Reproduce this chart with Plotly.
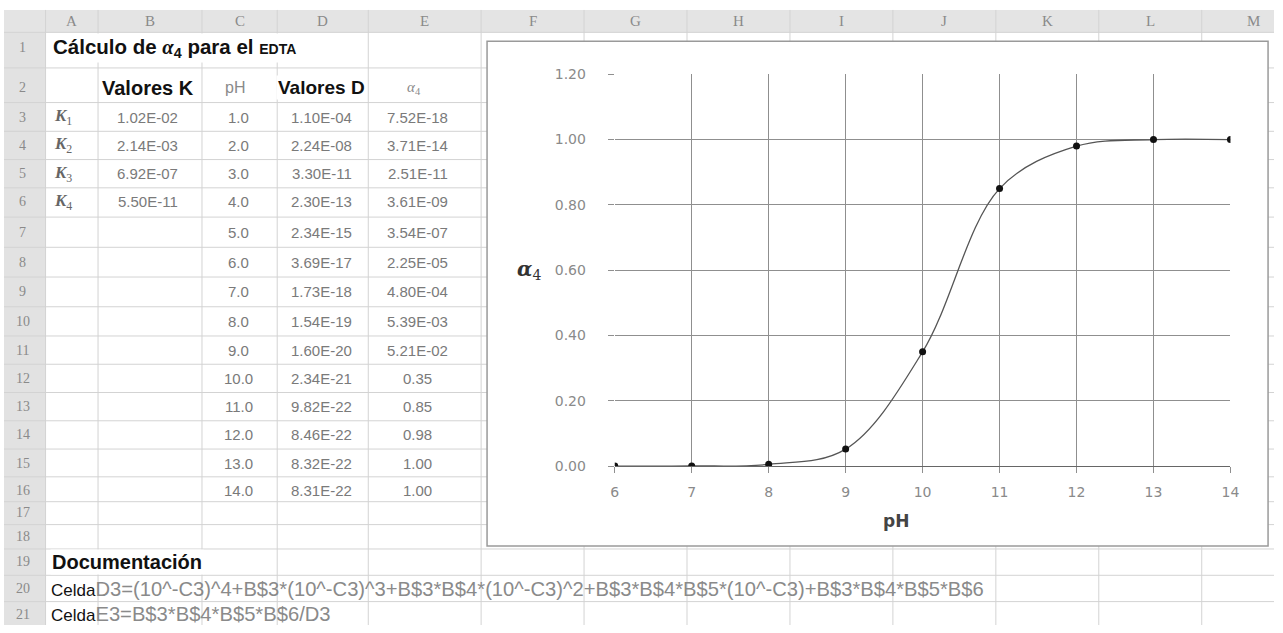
import plotly.graph_objects as go

# ---------------- data ----------------
k_labels = ["K<sub>1</sub>", "K<sub>2</sub>", "K<sub>3</sub>", "K<sub>4</sub>"]
k_values = [1.02e-02, 2.14e-03, 6.92e-07, 5.50e-11]
ph_values = [1.0, 2.0, 3.0, 4.0, 5.0, 6.0, 7.0, 8.0, 9.0, 10.0, 11.0, 12.0, 13.0, 14.0]
d_values = [1.10e-04, 2.24e-08, 3.30e-11, 2.30e-13, 2.34e-15, 3.69e-17, 1.73e-18,
            1.54e-19, 1.60e-20, 2.34e-21, 9.82e-22, 8.46e-22, 8.32e-22, 8.31e-22]
alpha4_values = [7.52e-18, 3.71e-14, 2.51e-11, 3.61e-09, 3.54e-07, 2.25e-05, 4.80e-04,
                 5.39e-03, 5.21e-02, 0.35, 0.85, 0.98, 1.00, 1.00]
column_letters = ["A", "B", "C", "D", "E", "F", "G", "H", "I", "J", "K", "L", "M"]
formula_cells = ["D3", "E3"]
formula_texts = ["(10^-C3)^4+B$3*(10^-C3)^3+B$3*B$4*(10^-C3)^2+B$3*B$4*B$5*(10^-C3)+B$3*B$4*B$5*B$6",
                 "B$3*B$4*B$5*B$6/D3"]
chart_ph_min = 6.0

# ---------------- page geometry ----------------
W, H = 1283, 633
def px(x):
    return x / W
def py(y):
    return 1 - y / H

col_edges = [0, 42, 95, 200, 276, 368, 482, 586, 690, 794, 898, 1002, 1106, 1210, 1314]
row_centers = [41, 82, 112, 141, 170, 199, 230, 261, 291, 322, 351, 380, 409, 438, 467,
               495, 518, 542, 568, 596, 622]
HEAD_TOP, HEAD_BOT = 2, 25
row_edges = [HEAD_BOT] + [(row_centers[i] + row_centers[i + 1]) / 2
                          for i in range(len(row_centers) - 1)] + [633]
# text centres in table columns B..E
xB, xC, xD, xE = 145, 237, 321, 418

def col_center(i):  # i: 0 -> A
    return (col_edges[i + 1] + col_edges[i + 2]) / 2

GRID = "#d3d3d3"
GRAY_TXT = "#7a7a7a"
FONT = "Liberation Sans, Arial, sans-serif"

shapes = []
shapes.append(dict(type="rect", xref="paper", yref="paper", x0=0, x1=1, y0=py(HEAD_BOT), y1=py(HEAD_TOP),
                   fillcolor="#e4e4e4", line=dict(width=0), layer="below"))
shapes.append(dict(type="rect", xref="paper", yref="paper", x0=0, x1=px(col_edges[1]), y0=0, y1=py(HEAD_BOT),
                   fillcolor="#e2e2e2", line=dict(width=0), layer="below"))
for e in row_edges[:-1]:
    shapes.append(dict(type="line", xref="paper", yref="paper", x0=0, x1=1, y0=py(e), y1=py(e),
                       line=dict(color=GRID, width=1), layer="below"))
for e in col_edges[1:-1]:
    shapes.append(dict(type="line", xref="paper", yref="paper", x0=px(e), x1=px(e), y0=0, y1=py(HEAD_TOP),
                       line=dict(color=GRID, width=1), layer="below"))
shapes.append(dict(type="rect", xref="paper", yref="paper", x0=px(488), x1=px(1277), y0=py(552), y1=py(34),
                   fillcolor="white", line=dict(color="#9a9a9a", width=1.5), layer="below"))

ann = []
def txt(x, y, s, size=15, color=GRAY_TXT, anchor="center", family=FONT, bg=None):
    d = dict(x=px(x), y=py(y), xref="paper", yref="paper", text=s, showarrow=False,
             xanchor=anchor, yanchor="middle", font=dict(size=size, color=color, family=family))
    if bg:
        d["bgcolor"] = bg
    ann.append(d)

for i, L in enumerate(column_letters):
    txt(col_center(i), (HEAD_TOP + HEAD_BOT) / 2, L, size=15, color="#8a8a8a", family="Liberation Serif, serif")
for r, yc in enumerate(row_centers):
    txt(19, yc, str(r + 1), size=14, color="#8a8a8a", family="Liberation Serif, serif")

txt(47, row_centers[0],
    "<b>Cálculo de <i style='font-family:Liberation Serif'>α</i><sub>4</sub> para el "
    "<span style='font-size:14px'>EDTA</span></b>",
    size=20.5, color="#111", anchor="left", bg="white")
txt(xB, row_centers[1], "<b>Valores K</b>", size=20, color="#111", bg="white")
txt(xC - 4, row_centers[1], "pH", size=16, color="#8a8a8a")
txt(xD, row_centers[1], "<b>Valores D</b>", size=19, color="#111", bg="white")
txt(xE - 4, row_centers[1], "<i>α</i><sub>4</sub>", size=15, color="#8a8a8a",
    family="Liberation Serif, serif")

for i, (kl, kv) in enumerate(zip(k_labels, k_values)):
    txt(48, row_centers[2 + i], "<b><i>" + kl[:1] + "</i></b>" + kl[1:], size=17, color="#666",
        anchor="left", family="Liberation Serif, serif")
    txt(xB, row_centers[2 + i], "%.2E" % kv)

for i, (p, d, a) in enumerate(zip(ph_values, d_values, alpha4_values)):
    yc = row_centers[2 + i]
    txt(xC, yc, "%.1f" % p)
    txt(xD, yc, "%.2E" % d)
    txt(xE, yc, ("%.2E" % a) if a < 0.1 else ("%.2f" % a))

txt(46, row_centers[18], "<b>Documentación</b>", size=20, color="#111", anchor="left", bg="white")
for i, (c, f) in enumerate(zip(formula_cells, formula_texts)):
    txt(45, row_centers[19 + i],
        "<span style='font-size:17px'>Celda</span><span style='color:#8a8a8a'>" + c + "=" + f + "</span>",
        size=20.2, color="#111", anchor="left")

txt(901, 526, "<b>pH</b>", size=17, color="#444", family="DejaVu Sans, sans-serif")
txt(530, 269, "<b><i>α</i></b><sub>4</sub>", size=20, color="#333", family="DejaVu Serif, serif")

# ---------------- chart ----------------
cx = [p for p in ph_values if p >= chart_ph_min]
cy = [a for p, a in zip(ph_values, alpha4_values) if p >= chart_ph_min]

fig = go.Figure()
fig.add_trace(go.Scatter(x=cx, y=cy, mode="lines+markers",
                         line=dict(color="#555", width=1.3, shape="spline", smoothing=1.0),
                         marker=dict(color="#111", size=7), showlegend=False, hoverinfo="skip"))

tickfont = dict(family="DejaVu Sans, sans-serif", size=14, color="#8a8a8a")
fig.update_layout(
    width=W, height=H, margin=dict(l=0, r=0, t=0, b=0),
    paper_bgcolor="white", plot_bgcolor="rgba(0,0,0,0)",
    shapes=shapes, annotations=ann,
    xaxis=dict(domain=[px(617), px(1239)], range=[6, 14], dtick=1, tick0=6,
               showgrid=True, gridcolor="#8f8f8f", gridwidth=1,
               showline=True, linecolor="#666", linewidth=1.2, mirror=False,
               ticks="outside", ticklen=6, tickcolor="#8f8f8f",
               tickfont=tickfont, ticklabelstandoff=7, zeroline=False, fixedrange=True),
    yaxis=dict(domain=[py(470), py(68)], range=[0, 1.2], dtick=0.2, tick0=0, tickformat=".2f",
               showgrid=True, gridcolor="#8f8f8f", gridwidth=1,
               showline=False, ticks="outside", ticklen=6, tickcolor="#8f8f8f",
               tickfont=tickfont, ticklabelstandoff=19, zeroline=False, fixedrange=True),
)

fig.write_html("out.html", config={"displayModeBar": False},
               post_script="document.body.style.margin='0';document.body.style.overflow='hidden';")
